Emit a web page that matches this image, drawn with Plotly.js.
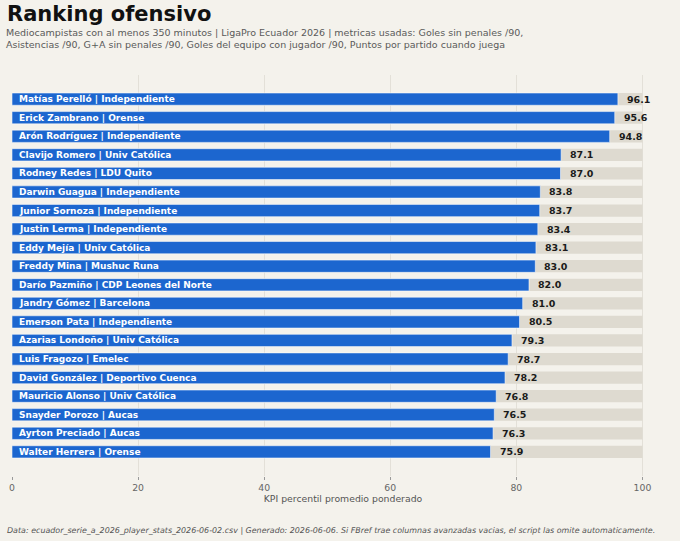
<!DOCTYPE html>
<html>
<head>
<meta charset="utf-8">
<script src="https://cdn.plot.ly/plotly-3.0.1.min.js"></script>
<style>
html,body{margin:0;padding:0;background:#f4f2ec;}
#chart{width:680px;height:541px;}
</style>
</head>
<body>
<div id="chart"></div>
<script>
const players = ["Matías Perelló","Erick Zambrano","Arón Rodríguez","Clavijo Romero","Rodney Redes","Darwin Guagua","Junior Sornoza","Justin Lerma","Eddy Mejía","Freddy Mina","Darío Pazmiño","Jandry Gómez","Emerson Pata","Azarias Londoño","Luis Fragozo","David González","Mauricio Alonso","Snayder Porozo","Ayrton Preciado","Walter Herrera"];
const teams = ["Independiente","Orense","Independiente","Univ Católica","LDU Quito","Independiente","Independiente","Independiente","Univ Católica","Mushuc Runa","CDP Leones del Norte","Barcelona","Independiente","Univ Católica","Emelec","Deportivo Cuenca","Univ Católica","Aucas","Aucas","Orense"];
const kpi = [96.1,95.6,94.8,87.1,87.0,83.8,83.7,83.4,83.1,83.0,82.0,81.0,80.5,79.3,78.7,78.2,76.8,76.5,76.3,75.9];
const maxScale = 100;
const xTicks = [0,20,40,60,80,100];

const idx = players.map((_, i) => i);
const labels = players.map((p, i) => p + " | " + teams[i]);

const FONT = "DejaVu Sans, sans-serif";
const PW = 662, PH = 401;

const traces = [
  {
    type: "bar", orientation: "h",
    x: idx.map(() => maxScale), y: idx, width: 0.66,
    marker: {color: "#dedad0", line: {width: 0}},
    hoverinfo: "skip", showlegend: false
  },
  {
    type: "bar", orientation: "h",
    x: kpi, y: idx, width: 0.66,
    marker: {color: "#1c66cf", line: {color: "rgba(255,255,255,0.55)", width: 1}},
    hoverinfo: "skip", showlegend: false
  }
];

const annotations = [];
idx.forEach(i => {
  annotations.push({
    x: 0, y: i, xref: "x", yref: "y", xanchor: "left", yanchor: "middle",
    xshift: 5, text: labels[i], showarrow: false,
    font: {family: FONT, size: 9, color: "#ffffff", weight: "bold"}
  });
  annotations.push({
    x: kpi[i], y: i, xref: "x", yref: "y", xanchor: "left", yanchor: "middle",
    xshift: 7, text: kpi[i].toFixed(1), showarrow: false,
    font: {family: FONT, size: 9.5, color: "#1a1a1a", weight: "bold"}
  });
});
annotations.push({
  xref: "paper", yref: "paper", x: -7/PW, y: 1 + 47/PH, xanchor: "left", yanchor: "bottom",
  text: "<b>Ranking ofensivo</b>", showarrow: false,
  font: {family: FONT, size: 21, color: "#111111"}
});
annotations.push({
  xref: "paper", yref: "paper", x: -8/PW, y: 1 + 23/PH, xanchor: "left", yanchor: "bottom",
  align: "left",
  text: "Mediocampistas con al menos 350 minutos | LigaPro Ecuador 2026 | metricas usadas: Goles sin penales /90,<br>Asistencias /90, G+A sin penales /90, Goles del equipo con jugador /90, Puntos por partido cuando juega",
  showarrow: false,
  font: {family: FONT, size: 9.5, color: "#5a5a5a"}
});
annotations.push({
  xref: "paper", yref: "paper", x: -7/PW, y: -48/PH, xanchor: "left", yanchor: "top",
  text: "<i>Data: ecuador_serie_a_2026_player_stats_2026-06-02.csv | Generado: 2026-06-06. Si FBref trae columnas avanzadas vacias, el script las omite automaticamente.</i>",
  showarrow: false,
  font: {family: FONT, size: 7.95, color: "#555555"}
});

const layout = {
  width: 680, height: 541,
  paper_bgcolor: "#f4f2ec", plot_bgcolor: "#f4f2ec",
  margin: {l: 12, r: 6, t: 75, b: 65},
  barmode: "overlay",
  font: {family: FONT},
  xaxis: {
    range: [0, 105], tickvals: xTicks, ticktext: xTicks.map(String),
    showgrid: true, gridcolor: "#e3e0d8", gridwidth: 1,
    zeroline: false, showline: false,
    ticks: "outside", ticklen: 3, tickcolor: "#999999",
    tickfont: {family: FONT, size: 9.3, color: "#666666"},
    title: {text: "KPI percentil promedio ponderado", font: {family: FONT, size: 9.3, color: "#555555"}, standoff: 3},
    fixedrange: true
  },
  yaxis: {
    range: [20.3, -1.3], showticklabels: false, showgrid: false,
    zeroline: false, showline: false, ticks: "", fixedrange: true
  },
  annotations: annotations
};

Plotly.newPlot("chart", traces, layout, {displayModeBar: false, staticPlot: true});
</script>
</body>
</html>
